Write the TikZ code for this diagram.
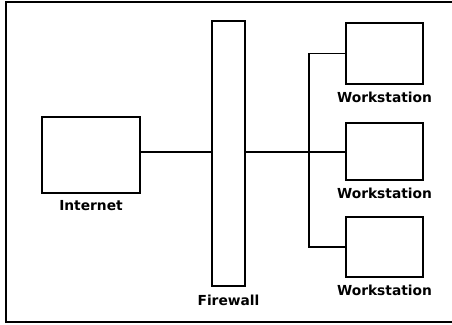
\documentclass[tikz,border=0pt]{standalone}
\usepackage{fontspec}
\setmainfont{DejaVu Sans}
\usetikzlibrary{positioning}
\tikzset{
  box/.style={draw, line width=1.6pt, inner sep=0pt},
  lbl/.style={font=\bfseries\fontsize{13.8}{14}\selectfont, inner sep=0pt},
}

\begin{document}
\begin{tikzpicture}[x=1pt,y=-1pt,line width=1.4pt]
  \useasboundingbox (0,0) rectangle (452,324);
  % Frame
  \draw[line width=2.5pt] (453,2) -| (6,322) -- (453,322);

  % Boxes
  \node[box, minimum width=98pt, minimum height=76pt] (inet) at (91,155) {};
  \node[box, minimum width=33pt, minimum height=265pt] (fw) at (228.5,153.5) {};
  \node[box, minimum width=77pt, minimum height=61pt] (ws1) at (384.5,53.5) {};
  \node[box, minimum width=77pt, minimum height=57pt] (ws2) at (384.5,151.5) {};
  \node[box, minimum width=77pt, minimum height=60pt] (ws3) at (384.5,247) {};

  % Labels
  \node[lbl, below=6pt of inet] (inetlbl) {Internet};
  \node[lbl, below=8pt of fw] (fwlbl) {Firewall};
  \node[lbl, below=7pt of ws1] (ws1lbl) {Workstation};
  \node[lbl, below=7pt of ws2] (ws2lbl) {Workstation};
  \node[lbl, below=7pt of ws3] (ws3lbl) {Workstation};

  % Links
  \coordinate (hub) at (309,152);
  \draw (inet.east |- hub) -- (hub -| fw.west);
  \draw (fw.east |- hub) -- (hub) -- (hub -| ws2.west);
  \draw (ws1.west) -| (hub) |- (ws3.west);
\end{tikzpicture}
\end{document}
